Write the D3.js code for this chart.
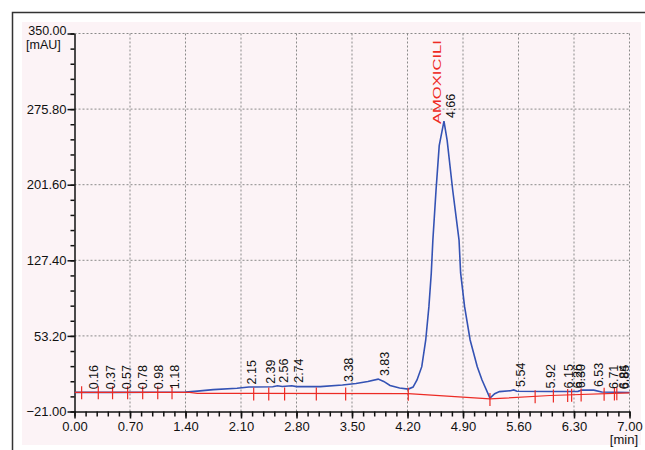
<!DOCTYPE html>
<html>
<head>
<meta charset="utf-8">
<script src="https://cdn.jsdelivr.net/npm/d3@7"></script>
<style>
  body { margin: 0; background: #fff; }
  text { font-family: "Liberation Sans", Arial, sans-serif; }
</style>
</head>
<body>
<script>
// chromatogram trace (time in min, signal in mAU)
var traceTime = [0.00, 0.50, 1.00, 1.40, 1.55, 1.75, 2.05, 2.20, 2.50, 2.56, 2.62, 2.74, 2.80, 3.10, 3.38, 3.55, 3.70, 3.83, 3.90, 3.98, 4.10, 4.21, 4.27, 4.32, 4.38, 4.43, 4.47, 4.50, 4.52, 4.56, 4.60, 4.66, 4.70, 4.77, 4.85, 4.87, 4.92, 4.99, 5.08, 5.14, 5.24, 5.30, 5.36, 5.50, 5.54, 5.58, 6.00, 6.35, 6.40, 6.55, 6.65, 7.00];
var traceValue = [-2.2, -2.2, -2.1, -1.9, -1.0, 0.5, 1.8, 3.0, 3.3, 4.2, 3.5, 4.2, 3.4, 3.4, 5.0, 6.5, 8.5, 10.8, 8.5, 4.5, 2.0, 1.0, 3.0, 9.9, 23.0, 49.2, 81.9, 115.0, 147.3, 196.4, 240.0, 264.0, 245.0, 196.4, 147.3, 115.0, 81.9, 49.2, 23.0, 9.9, -7.8, -3.5, -1.5, -0.6, 0.2, -1.2, -1.4, -1.2, 0.0, 0.0, -1.8, -2.3];

// integration baseline
var baseTime = [0.00, 1.45, 1.55, 4.21, 5.24, 6.00, 7.00];
var baseValue = [-2.2, -2.2, -3.2, -3.5, -8.7, -5.3, -2.8];

// peak start / end marks on the baseline
var markTimes = [0.09, 0.30, 0.48, 0.67, 0.86, 1.05, 1.23, 2.26, 2.45, 2.65, 3.05, 3.42, 4.21, 5.24, 5.81, 6.04, 6.22, 6.27, 6.39, 6.68, 6.81, 6.84];

// retention time labels
var peakTimes = [0.16, 0.37, 0.57, 0.78, 0.98, 1.18, 2.15, 2.39, 2.56, 2.74, 3.38, 3.83, 4.66, 5.54, 5.92, 6.15, 6.26, 6.30, 6.53, 6.71, 6.84, 6.85];
var peakName = "AMOXICILI";
var namedPeak = 4.66;

var xTicks = [0.00, 0.70, 1.40, 2.10, 2.80, 3.50, 4.20, 4.90, 5.60, 6.30, 7.00];
var yTicks = [-21.00, 53.20, 127.40, 201.60, 275.80, 350.00];

var svg = d3.select('body').append('svg')
            .attr('width', 645)
            .attr('height', 450);

// panel background and frame
svg.append('rect')
   .attr('x', 22).attr('y', 22)
   .attr('width', 619).attr('height', 423)
   .attr('fill', '#fcf3f6');
svg.append('path')
   .attr('d', 'M12.5,450V12.5H645')
   .attr('fill', 'none')
   .attr('stroke', '#333')
   .attr('stroke-width', 1.5);

var xScale = d3.scaleLinear().domain([0, 7]).range([74.5, 629.5]);
var yScale = d3.scaleLinear().domain([-21, 350]).range([411.5, 33.5]);

// dotted grid
var grid = svg.append('g');
grid.selectAll('line.gx')
    .data(xTicks.filter(function(d){ return d > 0; }))
    .enter().append('line')
    .attr('x1', function(d){ return xScale(d); })
    .attr('x2', function(d){ return xScale(d); })
    .attr('y1', yScale(350)).attr('y2', yScale(-21))
    .attr('stroke', '#8a8a8a').attr('stroke-dasharray', '2,2');
grid.selectAll('line.gy')
    .data(yTicks.filter(function(d){ return d > -21; }))
    .enter().append('line')
    .attr('y1', function(d){ return yScale(d); })
    .attr('y2', function(d){ return yScale(d); })
    .attr('x1', xScale(0)).attr('x2', xScale(7))
    .attr('stroke', '#8a8a8a').attr('stroke-dasharray', '2,2');

// axes
var fmt = d3.format('.2f');
var yMinor = d3.range(-21, 350.01, 74.2 / 5);
var xMinor = d3.range(0, 7.001, 0.14);

svg.append('g')
   .attr('transform', 'translate(' + xScale(0) + ',0)')
   .call(d3.axisLeft(yScale).tickValues(yMinor).tickSize(4).tickSizeOuter(0).tickFormat(''))
   .call(function(g){ g.select('.domain').remove(); });
var yAxis = svg.append('g')
   .attr('transform', 'translate(' + xScale(0) + ',0)')
   .call(d3.axisLeft(yScale).tickValues(yTicks).tickSize(7).tickSizeOuter(0).tickPadding(1).tickFormat(fmt));

svg.append('g')
   .attr('transform', 'translate(0,' + yScale(-21) + ')')
   .call(d3.axisBottom(xScale).tickValues(xMinor).tickSize(5).tickSizeOuter(0).tickFormat(''))
   .call(function(g){ g.select('.domain').remove(); });
var xAxis = svg.append('g')
   .attr('transform', 'translate(0,' + yScale(-21) + ')')
   .call(d3.axisBottom(xScale).tickValues(xTicks).tickSize(7).tickSizeOuter(0).tickPadding(3).tickFormat(fmt));

svg.selectAll('.tick line, .domain').attr('stroke', '#111').attr('stroke-width', 1.5);
svg.selectAll('.tick text').attr('font-size', 13).attr('fill', '#111')
   .attr('font-family', '"Liberation Sans", Arial, sans-serif');
// top label sits a little higher to leave room for the unit
yAxis.selectAll('.tick text')
     .filter(function(d){ return d === 350; })
     .attr('font-size', 12.5)
     .attr('dy', '0.1em');

svg.append('text')
   .attr('x', 26).attr('y', 49)
   .attr('font-size', 12.5).attr('fill', '#111')
   .text('[mAU]');
svg.append('text')
   .attr('x', 638).attr('y', 444)
   .attr('text-anchor', 'end')
   .attr('font-size', 13).attr('fill', '#111')
   .text('[min]');

// plot content
svg.append('clipPath').attr('id', 'plotclip')
   .append('rect')
   .attr('x', xScale(0)).attr('y', yScale(350))
   .attr('width', xScale(7) - xScale(0) + 1)
   .attr('height', yScale(-21) - yScale(350));
var plot = svg.append('g').attr('clip-path', 'url(#plotclip)');

var trace = traceTime.map(function(t, i){ return [t, traceValue[i]]; });
var base = baseTime.map(function(t, i){ return [t, baseValue[i]]; });
var line = d3.line()
             .x(function(d){ return xScale(d[0]); })
             .y(function(d){ return yScale(d[1]); });

plot.append('path')
    .datum(trace)
    .attr('d', line)
    .attr('fill', 'none')
    .attr('stroke', '#3452b4')
    .attr('stroke-width', 1.6);

plot.append('path')
    .datum(base)
    .attr('d', line)
    .attr('fill', 'none')
    .attr('stroke', '#ec2b25')
    .attr('stroke-width', 1.2);

var traceAt = function(t){ return d3.scaleLinear().domain(traceTime).range(traceValue)(t); };
var baseAt = function(t){ return d3.scaleLinear().domain(baseTime).range(baseValue)(t); };

plot.selectAll('line.mark')
    .data(markTimes)
    .enter().append('line')
    .attr('x1', function(d){ return xScale(d); })
    .attr('x2', function(d){ return xScale(d); })
    .attr('y1', function(d){ return yScale(baseAt(d)) - 6; })
    .attr('y2', function(d){ return yScale(baseAt(d)) + 7; })
    .attr('stroke', '#ec2b25')
    .attr('stroke-width', 1.2);

plot.selectAll('text.peak')
    .data(peakTimes)
    .enter().append('text')
    .attr('transform', function(d){
      return 'translate(' + (xScale(d) + 11) + ',' + (yScale(traceAt(d)) - 3) + ') rotate(-90)';
    })
    .attr('font-size', 12.5)
    .attr('fill', '#111')
    .text(function(d){ return fmt(d); });

plot.append('text')
    .attr('transform', 'translate(' + (xScale(namedPeak) - 3) + ',' + (yScale(traceAt(namedPeak)) + 3) + ') rotate(-90)')
    .attr('font-size', 11.5)
    .attr('fill', '#ee2a24')
    .attr('textLength', 84)
    .attr('lengthAdjust', 'spacingAndGlyphs')
    .text(peakName);
</script>
</body>
</html>
